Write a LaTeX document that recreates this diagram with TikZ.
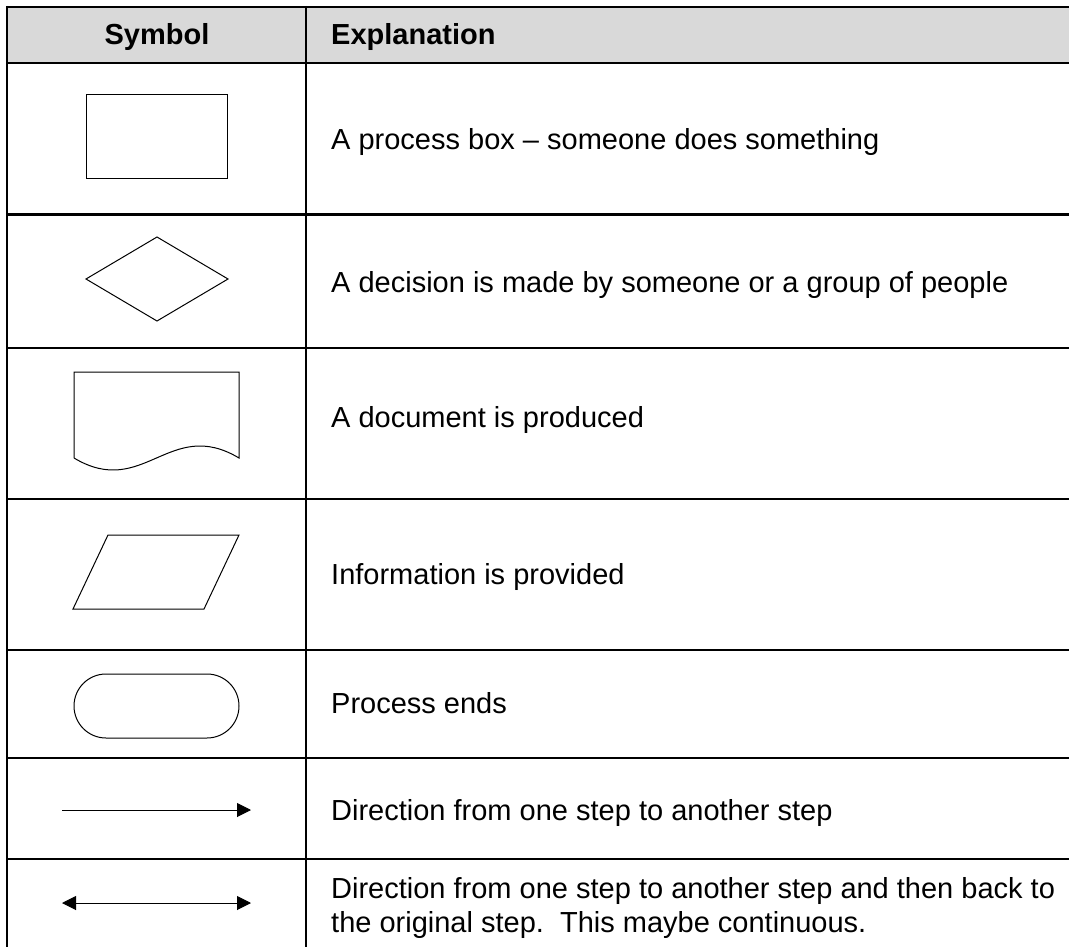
\documentclass[tikz,border=0pt]{standalone}
\usepackage{fontspec}
\setmainfont{Liberation Sans}
\usetikzlibrary{arrows.meta}
\definecolor{headgray}{HTML}{D9D9D9}
\begin{document}
\begin{tikzpicture}[x=1pt,y=-1pt,
  rule/.style={line width=2pt},
  symb/.style={line width=1pt, line join=miter},
  txt/.style={anchor=base west, inner sep=0pt, font=\fontsize{29}{34.5}\selectfont},
  head/.style={anchor=base, inner sep=0pt, font=\fontsize{29}{34.5}\selectfont\bfseries},
  tip/.style={{Triangle[length=14pt,width=14pt]}}
]
\useasboundingbox (0,0) rectangle (1069,947);

% header band
\fill[headgray] (7,7) rectangle (1069,63);

% table rules
\draw[rule] (7,7) -- (1069,7);
\draw[rule] (7,63) -- (1069,63);
\foreach \yy in {214.5,347.5,499,650,758,859}
  \draw[rule] (7,\yy) -- (1069,\yy);
\draw[rule] (7,6) -- (7,947);
\draw[rule] (306,6) -- (306,947);

% header text
\node[head] (hsym) at (157,45) {Symbol};
\node[head, anchor=base west] (hexp) at (331,45) {Explanation};

% process box
\draw[symb] (86,95) rectangle (227,179);
% decision
\draw[symb] (86,279) -- (157,237) -- (228,279) -- (157,321) -- cycle;
% document
\draw[symb] (74,458) -- (74,372) -- (239,372) -- (239,458)
  .. controls (169.5,416.4) and (143.5,499.6) .. (74,458);
% data (parallelogram)
\draw[symb] (73,609) -- (204,609) -- (239,535) -- (108,535) -- cycle;
% terminator
\draw[symb, rounded corners=32pt] (74,674) rectangle (239,738);

% connectors
\coordinate (a1s) at (62,810);
\coordinate (a1e) at (251,810);
\draw[symb, -{Triangle[length=14pt,width=14pt]}] (a1s) -- (a1e);
\coordinate (a2s) at (62,903);
\coordinate (a2e) at (251,903);
\draw[symb, {Triangle[length=14pt,width=14pt]}-{Triangle[length=14pt,width=14pt]}] (a2s) -- (a2e);

% explanations
\node[txt] (t1) at (331,150) {A process box – someone does something};
\node[txt] (t2) at (331,292) {A decision is made by someone or a group of people};
\node[txt] (t3) at (331,427) {A document is produced};
\node[txt] (t4) at (331,584) {Information is provided};
\node[txt] (t5) at (331,713) {Process ends};
\node[txt] (t6) at (331,820) {Direction from one step to another step};
\node[txt] (t7a) at (331,898) {Direction from one step to another step and then back to};
\node[txt] (t7b) at (331,932) {the original step.\ \ This maybe continuous.};
\end{tikzpicture}
\end{document}
